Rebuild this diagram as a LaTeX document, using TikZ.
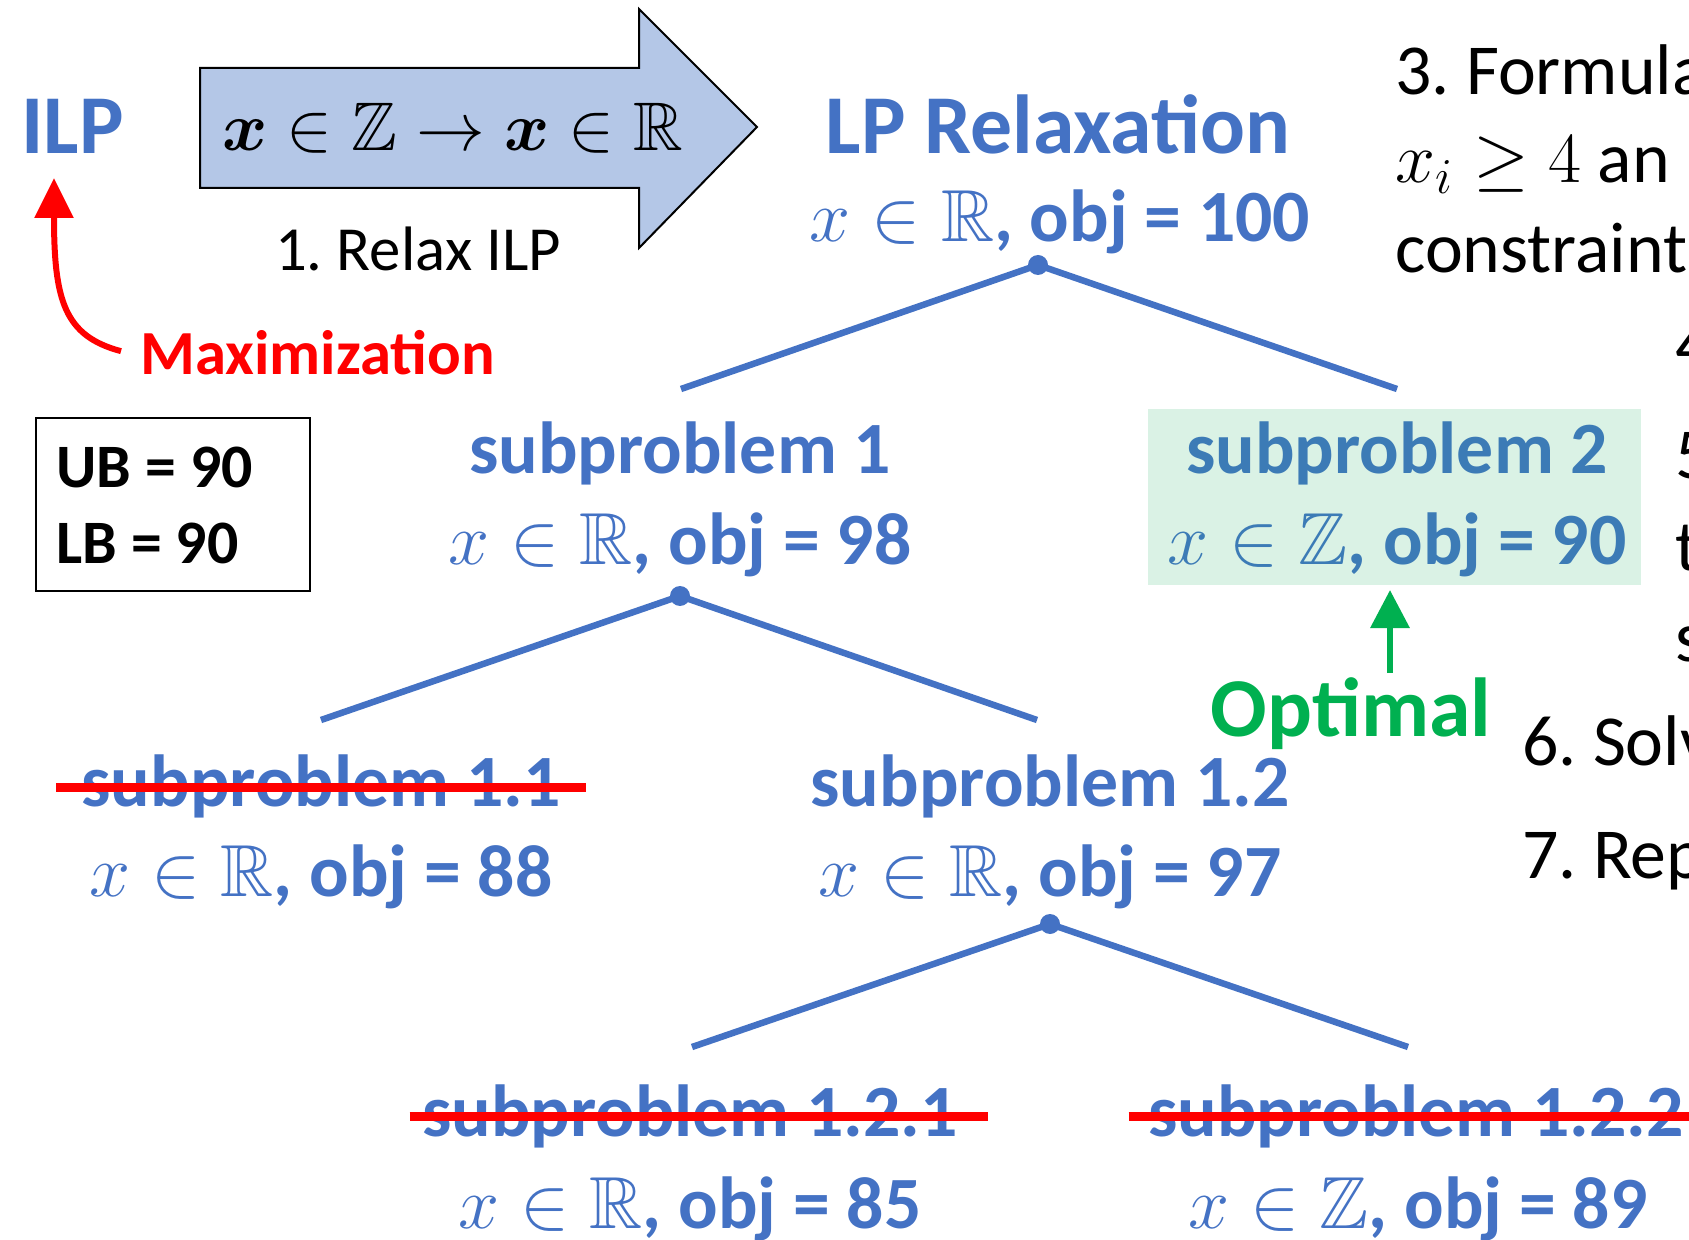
\RequirePackage{fix-cm}
\documentclass[tikz,border=0pt]{standalone}
\usepackage{amsmath,amssymb,bm}
\usepackage{fontspec}
\setmainfont{Carlito}
\usetikzlibrary{arrows.meta,calc}
\definecolor{lpblue}{HTML}{4472C4}
\definecolor{relaxfill}{HTML}{B4C7E7}
\definecolor{optfill}{HTML}{DAF2E5}
\definecolor{optblue}{HTML}{3C7BB6}
\definecolor{optgreen}{HTML}{00B050}
\definecolor{cutred}{HTML}{FF0000}
\frenchspacing

\begin{document}
\begin{tikzpicture}[x=0.5bp,y=-0.5bp,
  every node/.style={inner sep=0pt},
  big/.style={font=\bfseries\fontsize{42}{50}\selectfont, text=lpblue, anchor=base},
  prob/.style={font=\bfseries\fontsize{37}{44}\selectfont, text=lpblue, anchor=base},
  steptext/.style={font=\fontsize{36}{43}\selectfont, anchor=base west},
  bound/.style={font=\bfseries\fontsize{31}{37}\selectfont, anchor=base west},
  branch/.style={draw=lpblue, line width=3.25bp},
  cut/.style={draw=cutred, line width=4.5bp},
]
\useasboundingbox (0,0) rectangle (1689,1240);
\clip (0,0) rectangle (1689,1240);

\node[big, anchor=base west] (ilp) at (21,154) {ILP};
\draw[fill=relaxfill, line width=1bp] (200,68) -- (639,68) -- (639,9) -- (757,127)
  -- (639,248) -- (639,188) -- (200,188) -- cycle;
\node[font=\fontsize{34.5}{41}\selectfont, anchor=base] (relaxmath) at (453,151)
  {$\bm{x}\in\mathbb{Z}\to\bm{x}\in\mathbb{R}$};
\node[steptext, font=\fontsize{31.5}{38}\selectfont, anchor=base] (relaxlbl) at (418,271) {1. Relax ILP};

\node[font=\bfseries\fontsize{31.5}{38}\selectfont, text=cutred, anchor=base west] (maxlbl) at (140,375) {Maximization};
\coordinate (ilp-in) at (54,178);
\draw[cutred, line width=3bp, -{Triangle[width=19bp,length=20bp]}]
  ($(maxlbl.west)+(-19,-2)$) .. controls (64,336) and (54,300) .. (ilp-in);

\draw[line width=1bp] (36,418) rectangle (310,591);
\node[bound] (ub) at (56,488) {UB = 90};
\node[bound] (lb) at (56,564) {LB = 90};

% tree
\node[big] (root) at (1058,154) {LP Relaxation};
\node[prob] (rootv) at (1060,242) {$x\in\mathbb{R}$, obj = 100};
\coordinate (root-dot) at (1038,265);
\coordinate (s1-top) at (681,389);
\coordinate (s2-top) at (1397,389);

\node[prob] (s1) at (680,474) {subproblem 1};
\node[prob] (s1v) at (680,565) {$x\in\mathbb{R}$, obj = 98};
\coordinate (s1-dot) at (680,596);
\coordinate (s11-top) at (321,720);
\coordinate (s12-top) at (1037,720);

\fill[optfill] (1148,409) rectangle (1641,585);
\node[prob, text=optblue] (s2) at (1397,474) {subproblem 2};
\node[prob, text=optblue] (s2v) at (1397,565) {$x\in\mathbb{Z}$, obj = 90};

\node[prob] (s11) at (321,806) {subproblem 1.1};
\node[prob] (s11v) at (321,896) {$x\in\mathbb{R}$, obj = 88};
\node[prob] (s12) at (1050,806) {subproblem 1.2};
\node[prob] (s12v) at (1050,896) {$x\in\mathbb{R}$, obj = 97};
\coordinate (s12-dot) at (1050,924);
\coordinate (s121-top) at (692,1047);
\coordinate (s122-top) at (1408,1047);

\node[prob] (s121) at (690,1136) {subproblem 1.2.1};
\node[prob] (s121v) at (690,1228) {$x\in\mathbb{R}$, obj = 85};
\node[prob] (s122) at (1416,1136) {subproblem 1.2.2};
\node[prob] (s122v) at (1418,1228) {$x\in\mathbb{Z}$, obj = 89};

\draw[branch] (s1-top) -- (root-dot) -- (s2-top);
\draw[branch] (s11-top) -- (s1-dot) -- (s12-top);
\draw[branch] (s121-top) -- (s12-dot) -- (s122-top);
\fill[lpblue] (root-dot) circle (5bp) (s1-dot) circle (5bp) (s12-dot) circle (5bp);

\draw[cut] ($(s11.base west)+(-25,-19)$) -- ($(s11.base east)+(25,-19)$);
\draw[cut] ($(s121.base west)+(-12,-20)$) -- ($(s121.base east)+(30,-20)$);
\draw[cut] ($(s122.base west)+(-19,-20)$) -- ($(s122.base east)+(30,-20)$);

\node[font=\bfseries\fontsize{42}{50}\selectfont, text=optgreen, anchor=base] (optlbl) at (1351,736) {Optimal};
\coordinate (opt-from) at (1390,673);
\coordinate (opt-to) at (1390,590);
\draw[optgreen, line width=3.2bp, -{Triangle[width=19bp,length=19bp]}] (opt-from) -- (opt-to);

% steps on the right
\node[steptext] (step3) at (1395,95) {3. Formula};
\node[steptext] (step3b) at (1395,183) {$x_i \geq 4$ an};
\node[steptext] (step3c) at (1395,273) {constraint};
\node[steptext] (step4) at (1675,369) {4};
\node[steptext] (step5) at (1675,479) {5};
\node[steptext] (step5b) at (1675,571) {t};
\node[steptext] (step5c) at (1675,662) {s};
\node[steptext] (step6) at (1522,765) {6. Solv};
\node[steptext] (step7) at (1522,878) {7. Rep};
\end{tikzpicture}
\end{document}
